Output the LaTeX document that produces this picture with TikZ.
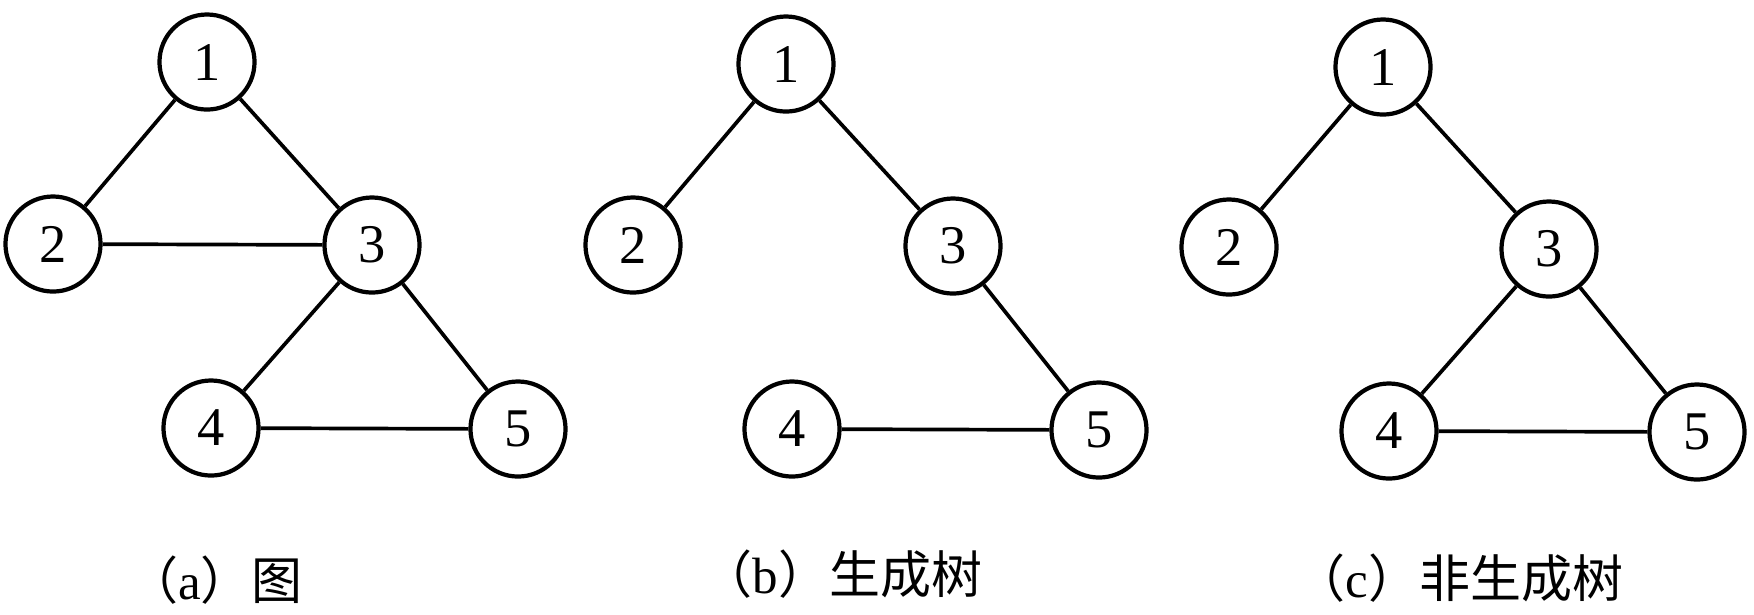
\documentclass[tikz,border=0pt]{standalone}
\usepackage{fontspec}
\setmainfont{Liberation Serif}
\newfontfamily\cjk{Noto Sans CJK SC}
\begin{document}
\begin{tikzpicture}[x=0.01cm,y=-0.01cm,
  vtx/.style={circle,draw,line width=1.2pt,minimum size=0.95cm,inner sep=0pt,
    font=\fontsize{15.5}{15.5}\selectfont},
  edge/.style={line width=1.05pt},
  capt/.style={inner sep=0pt,font=\fontsize{14.5}{14.5}\selectfont}]
\useasboundingbox (0,0) rectangle (1754,614);
% (a)
\node[vtx] (a1) at (207,62) {1};
\node[vtx] (a2) at (53,244) {2};
\node[vtx] (a3) at (372,245) {3};
\node[vtx] (a4) at (211,428) {4};
\node[vtx] (a5) at (518,429) {5};
\draw[edge] (a1) -- (a2);
\draw[edge] (a1) -- (a3);
\draw[edge] (a2) -- (a3);
\draw[edge] (a3) -- (a4);
\draw[edge] (a3) -- (a5);
\draw[edge] (a4) -- (a5);
\node[capt] (la) at (215,580) {{\cjk （}a{\cjk ）图}};
% (b)
\node[vtx] (b1) at (786,64) {1};
\node[vtx] (b2) at (633,245) {2};
\node[vtx] (b3) at (953,246) {3};
\node[vtx] (b4) at (792,429) {4};
\node[vtx] (b5) at (1099,430) {5};
\draw[edge] (b1) -- (b2);
\draw[edge] (b1) -- (b3);
\draw[edge] (b3) -- (b5);
\draw[edge] (b4) -- (b5);
\node[capt] (lb) at (842,574) {{\cjk （}b{\cjk ）生成树}};
% (c)
\node[vtx] (c1) at (1383,67) {1};
\node[vtx] (c2) at (1229,247) {2};
\node[vtx] (c3) at (1549,249) {3};
\node[vtx] (c4) at (1389,431) {4};
\node[vtx] (c5) at (1697,432) {5};
\draw[edge] (c1) -- (c2);
\draw[edge] (c1) -- (c3);
\draw[edge] (c3) -- (c4);
\draw[edge] (c3) -- (c5);
\draw[edge] (c4) -- (c5);
\node[capt] (lc) at (1459,578) {{\cjk （}c{\cjk ）非生成树}};
\end{tikzpicture}
\end{document}
